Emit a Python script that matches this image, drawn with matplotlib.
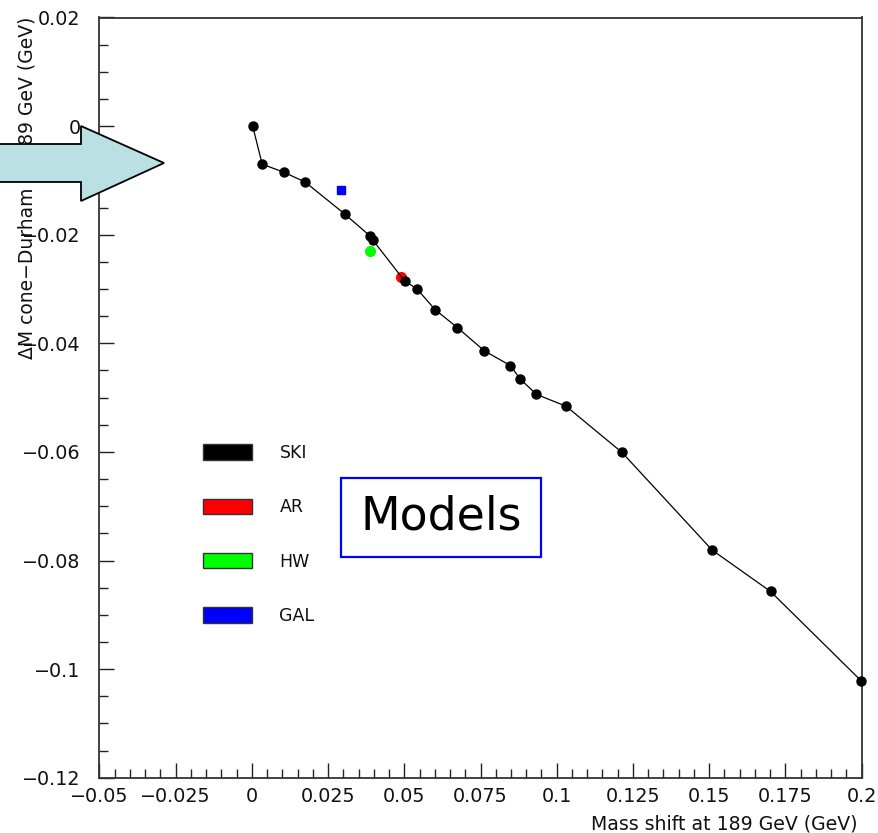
import matplotlib
matplotlib.use('Agg')
import matplotlib.pyplot as plt
from matplotlib.patches import Patch, Rectangle, Polygon
from matplotlib.ticker import FixedLocator, FixedFormatter, MultipleLocator

# ---------------- data ----------------
ski_x = [0.0003, 0.0034, 0.0105, 0.0175, 0.0305, 0.0387, 0.0397, 0.0501, 0.0542,
         0.0601, 0.0674, 0.0763, 0.0848, 0.0879, 0.0933, 0.1031, 0.1214, 0.1510,
         0.1701, 0.1999]
ski_y = [0.0000, -0.0070, -0.0085, -0.0103, -0.0162, -0.0202, -0.0210, -0.0285, -0.0300,
         -0.0338, -0.0371, -0.0414, -0.0441, -0.0465, -0.0494, -0.0516, -0.0601, -0.0781,
         -0.0857, -0.1022]
ar_x = [0.0488]
ar_y = [-0.0278]
hw_x = [0.0389]
hw_y = [-0.0230]
gal_x = [0.0294]
gal_y = [-0.0117]

model_names = ['SKI', 'AR', 'HW', 'GAL']
model_colors = ['#000000', '#ff0000', '#00ff00', '#0000ff']

xticks = [-0.05, -0.025, 0, 0.025, 0.05, 0.075, 0.1, 0.125, 0.15, 0.175, 0.2]
xtick_labels = ['\u22120.05', '\u22120.025', '0', '0.025', '0.05', '0.075', '0.1',
                '0.125', '0.15', '0.175', '0.2']
yticks = [-0.12, -0.1, -0.08, -0.06, -0.04, -0.02, 0, 0.02]
ytick_labels = ['\u22120.12', '\u22120.1', '\u22120.08', '\u22120.06', '\u22120.04',
                '\u22120.02', '0', '0.02']

x_label = 'Mass shift at 189 GeV (GeV)'
y_label = '\u0394M cone\u2212Durham at 189 GeV (GeV)'
box_text = 'Models'

# ---------------- figure ----------------
W, H = 879, 833
fig = plt.figure(figsize=(W / 100, H / 100), dpi=100)
fig.patch.set_facecolor('white')


def fx(px):
    return px / W


def fy(py):
    return 1 - py / H


ax = fig.add_axes([fx(99.3), fy(777.7), fx(861.7) - fx(99.3), fy(17.5) - fy(777.7)])
ax.set_xlim(-0.05, 0.2)
ax.set_ylim(-0.12, 0.02)

ax.plot(ski_x, ski_y, color='black', lw=0.9, marker='o', ms=6.5,
        markerfacecolor='black', markeredgecolor='black', zorder=3, clip_on=False)
ax.plot(ar_x, ar_y, ls='none', marker='o', ms=7, color=model_colors[1], zorder=2)
ax.plot(hw_x, hw_y, ls='none', marker='o', ms=7, color=model_colors[2], zorder=2)
ax.plot(gal_x, gal_y, ls='none', marker='s', ms=6, color=model_colors[3], zorder=2)

ax.xaxis.set_major_locator(FixedLocator(xticks))
ax.xaxis.set_major_formatter(FixedFormatter(xtick_labels))
ax.xaxis.set_minor_locator(MultipleLocator(0.005))
ax.yaxis.set_major_locator(FixedLocator(yticks))
ax.yaxis.set_major_formatter(FixedFormatter(ytick_labels))
ax.yaxis.set_minor_locator(MultipleLocator(0.005))

ax.tick_params(which='both', direction='in', top=False, right=False,
               width=1.0, color='#222222', labelsize=13.8, labelcolor='#111111')
ax.tick_params(which='major', length=10.8)
ax.tick_params(which='minor', length=6.3)
ax.tick_params(axis='x', which='major', pad=6.5)
ax.tick_params(axis='y', which='major', pad=13.5)
for s in ax.spines.values():
    s.set_color('#333333')
    s.set_linewidth(1.3)

# axis labels
fig.text(fx(858), fy(830), x_label, ha='right', va='baseline', fontsize=13.6,
         color='#111111')
fig.text(fx(27), fy(17), y_label, ha='center', va='top', rotation=90,
         fontsize=13.5, color='#111111')

# legend
handles = [Patch(facecolor=c, edgecolor='#333333', linewidth=1.0, label=n)
           for n, c in zip(model_names, model_colors)]
leg = fig.legend(handles=handles, loc='upper left',
                 bbox_to_anchor=(fx(203), fy(444)), bbox_transform=fig.transFigure,
                 frameon=False, fontsize=12.5, handlelength=2.8, handleheight=1.0,
                 handletextpad=1.6, labelspacing=2.09, borderpad=0, borderaxespad=0)
for t in leg.get_texts():
    t.set_color('#111111')

# "Models" box
fig.patches.append(Rectangle((fx(341), fy(557)), fx(541) - fx(341), fy(478) - fy(557),
                             transform=fig.transFigure, facecolor='white',
                             edgecolor='#0000ff', linewidth=1.6, zorder=5))
fig.text(fx(441), fy(517), box_text, ha='center', va='center', fontsize=33,
         color='black', zorder=6)

# big arrow
arrow_pts = [(-5, 144), (81, 144), (81, 126), (164, 163), (81, 201), (81, 182), (-5, 182)]
fig.patches.append(Polygon([(fx(x), fy(y)) for x, y in arrow_pts], closed=True,
                           transform=fig.transFigure, facecolor='#bae0e4',
                           edgecolor='black', linewidth=1.3, zorder=10))

fig.savefig('out.png', dpi=100)
